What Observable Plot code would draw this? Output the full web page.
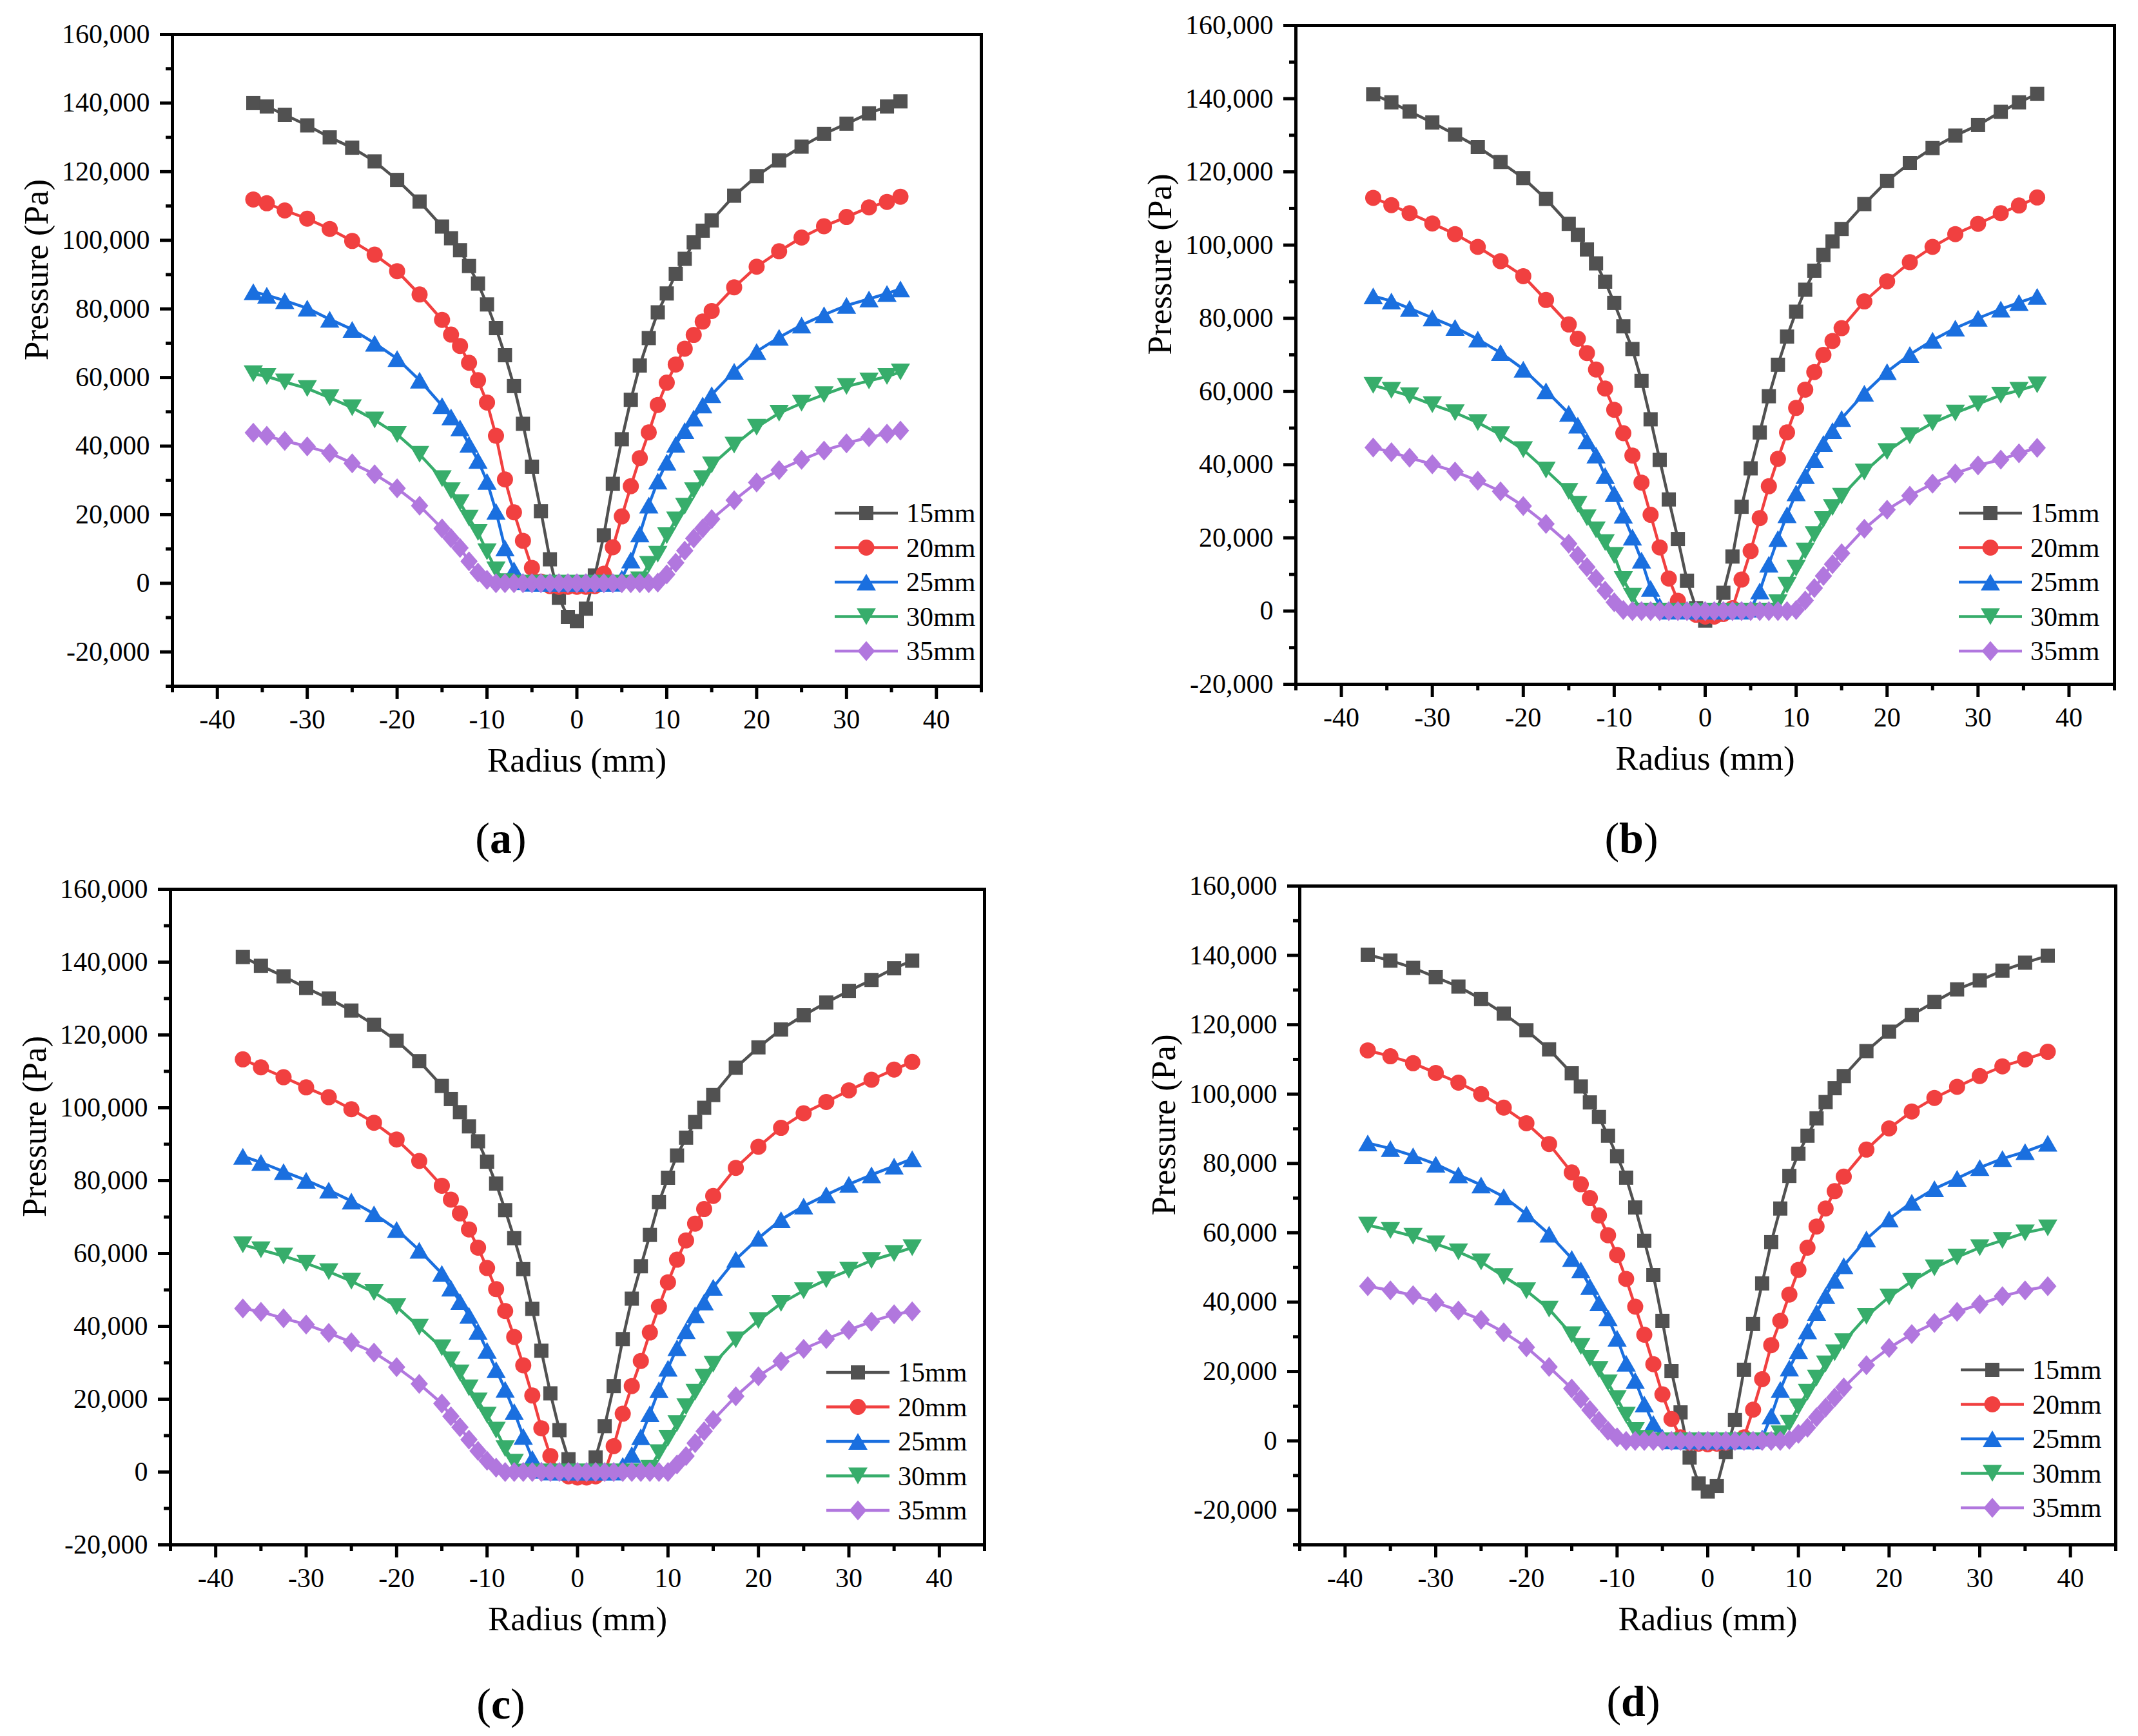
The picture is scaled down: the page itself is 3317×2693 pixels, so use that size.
<!DOCTYPE html>
<html>
<head>
<meta charset="utf-8">
<script src="https://cdn.jsdelivr.net/npm/d3@7"></script>
<script src="https://cdn.jsdelivr.net/npm/@observablehq/plot@0.6"></script>
<style>
  body { margin: 0; background: #fff; }
  #page { position: relative; width: 3317px; height: 2693px; background: #fff; overflow: hidden; }
  .panel { position: absolute; }
  .panel svg text { font-family: "Liberation Serif", "Times New Roman", "DejaVu Serif", serif !important; }
  .cap { position: absolute; transform: translate(-50%, -50%); font-family: "Liberation Serif", "Times New Roman", serif; font-size: 68px; line-height: 1; color: #000; }
</style>
</head>
<body>
<div id="page"></div>
<script>
// radius positions (mm), one list per panel
const xA = [-36,-34.5,-32.5,-30,-27.5,-25,-22.5,-20,-17.5,-15,-14,-13,-12,-11,-10,-9,-8,-7,-6,-5,-4,-3,-2,-1,0,1,2,3,4,5,6,7,8,9,10,11,12,13,14,15,17.5,20,22.5,25,27.5,30,32.5,34.5,36];
const xB = [-36.5,-34.5,-32.5,-30,-27.5,-25,-22.5,-20,-17.5,-15,-14,-13,-12,-11,-10,-9,-8,-7,-6,-5,-4,-3,-2,-1,0,1,2,3,4,5,6,7,8,9,10,11,12,13,14,15,17.5,20,22.5,25,27.5,30,32.5,34.5,36.5];
const xC = [-37,-35,-32.5,-30,-27.5,-25,-22.5,-20,-17.5,-15,-14,-13,-12,-11,-10,-9,-8,-7,-6,-5,-4,-3,-2,-1,0,1,2,3,4,5,6,7,8,9,10,11,12,13,14,15,17.5,20,22.5,25,27.5,30,32.5,35,37];
const xD = [-37.5,-35,-32.5,-30,-27.5,-25,-22.5,-20,-17.5,-15,-14,-13,-12,-11,-10,-9,-8,-7,-6,-5,-4,-3,-2,-1,0,1,2,3,4,5,6,7,8,9,10,11,12,13,14,15,17.5,20,22.5,25,27.5,30,32.5,35,37.5];

// pressure (Pa) - panel (a)
const a15 = [140000,139000,136600,133500,130000,127000,123000,117600,111300,104000,100600,97100,92500,87400,81300,74400,66500,57500,46500,34000,21000,7000,-4200,-9800,-11000,-7400,2300,14000,29000,42000,53500,63500,71500,79000,84500,90200,94600,99400,102800,105800,113000,118700,123300,127300,131000,134000,137000,139000,140500];
const a20 = [111900,110800,108700,106300,103300,99800,95800,91000,84200,76800,72500,69200,64300,59200,52700,43000,30300,20700,12400,4500,500,-800,-1000,-1000,-1000,-1000,-800,2800,10500,19500,28300,36500,44000,52000,58500,63800,68400,72400,76300,79400,86300,92300,96800,100800,104100,106800,109600,111200,112700];
const a25 = [85000,84000,82400,80200,77000,74000,70000,65500,59200,51800,48500,45300,40500,35800,29700,21000,10300,3900,500,0,0,0,0,0,0,0,0,0,0,1500,6800,14400,22800,29800,35300,40500,44500,48200,52000,55000,61800,67600,71700,75300,78300,81000,82900,84500,85800];
const a30 = [61100,60300,58700,56800,54100,51200,47600,43400,37600,30500,27000,23500,19000,14800,9200,3900,500,0,0,0,0,0,0,0,0,0,0,0,0,0,0,1000,5500,8500,13900,18500,22500,27000,30500,34500,40300,45500,49600,52500,55000,57400,59000,60300,61600];
const a35 = [43900,43000,41500,39900,38000,35000,31800,27700,22600,16000,13200,10300,6400,3100,1000,0,0,0,0,0,0,0,0,0,0,0,0,0,0,0,0,0,0,200,2600,6000,9500,13100,16000,18700,24200,29400,33000,36000,38700,40800,42600,43600,44500];

// panel (b)
const b15 = [141200,139000,136500,133500,130200,126800,122700,118300,112600,105800,102800,98800,95000,90000,84200,77800,71600,62900,52400,41300,30500,19700,8300,800,-2600,-1000,5000,14900,28500,39000,48800,58700,67300,75000,81800,87800,93000,97300,101000,104400,111200,117500,122400,126500,129900,132800,136400,139000,141300];
const b20 = [112900,110900,108700,105900,103000,99500,95600,91500,85000,78300,74400,70500,66000,60800,55000,48600,42500,35100,26300,17400,8900,2800,0,-1000,-1500,-1500,-800,800,8600,16400,25400,34100,41600,48800,55500,60500,65300,70000,73800,77300,84600,90100,95300,99500,103000,105800,108700,110800,113000];
const b25 = [86100,84700,82700,80100,77500,74300,70600,66100,60200,54000,50800,46500,42600,37000,32100,26200,20200,13900,6200,1400,0,0,0,0,0,0,0,0,0,500,5500,12800,19800,26300,32300,37000,41400,45800,49300,52600,59500,65400,70100,74000,77300,80000,82500,84300,86000];
const b30 = [61700,60300,58800,56400,54200,51500,48200,44100,38500,32700,29200,25500,22200,18700,15200,8600,4100,0,0,0,0,0,0,0,0,0,0,0,0,0,0,0,2300,7100,11700,16400,20900,25000,28300,31400,38000,43600,47900,51400,54100,56600,59000,60300,61800];
const b35 = [44700,43400,41900,40100,38100,35600,32700,28700,23800,18400,15200,12000,8900,5600,2400,300,0,0,0,0,0,0,0,0,0,0,0,0,0,0,0,0,0,0,300,2900,6300,9600,12800,15800,22500,27700,31500,34800,37600,39800,41400,43100,44600];

// panel (c)
const c15 = [141400,139000,136100,132900,130000,126700,122800,118400,112800,106000,102400,98800,94900,90800,85200,79200,71900,64200,55700,44800,33300,21600,11500,3500,-800,0,4000,12600,23600,36500,47600,56500,65100,74100,80800,86900,91800,96100,100000,103500,111000,116600,121500,125400,128900,132100,135100,138300,140400];
const c20 = [113300,111100,108400,105600,102900,99600,95900,91300,85400,78600,74800,71000,66600,61600,56000,50200,44200,37100,29300,21000,12000,4400,0,-1200,-1500,-1500,-1200,0,7100,16000,23600,30500,38300,45400,52100,58300,63600,68200,72200,75800,83500,89300,94500,98500,101600,104800,107700,110500,112600];
const c25 = [86700,85000,82500,80100,77400,74400,70900,66600,60900,54500,50500,46800,43000,38600,33400,28100,22700,16600,9800,3700,500,0,0,0,0,0,0,0,0,1800,4800,9700,16000,22600,28500,34100,38800,43200,46700,50700,58400,64200,69300,73000,76100,79000,81600,84000,86000];
const c30 = [62400,61000,59300,57300,55000,52400,49300,45400,39800,34100,30800,27200,23100,19500,15600,11500,6400,2700,0,0,0,0,0,0,0,0,0,0,0,0,0,0,1000,5300,9300,13300,17900,21900,26000,29600,36300,41600,46300,49800,52800,55400,58100,60000,61600];
const c35 = [44900,44000,42200,40500,38200,35600,32800,28800,24200,18800,15300,12300,8900,5800,3100,1200,0,0,0,0,0,0,0,0,0,0,0,0,0,0,0,0,0,0,0,2100,4400,7900,11200,14300,20800,26300,30400,33800,36500,39000,41300,43300,44100];

// panel (d)
const d15 = [140200,138500,136400,133700,131000,127400,123200,118400,112900,106000,102200,97600,93400,88000,82100,75900,67300,57700,47800,34600,20100,8200,-4800,-12300,-14600,-13000,-3200,6000,20500,33700,45400,57300,67000,76400,82800,88000,93000,97700,101700,105200,112400,118000,122800,126600,130200,132800,135600,137900,139900];
const d20 = [112600,110900,108900,106100,103300,100000,96100,91600,85600,77400,74000,70000,65000,59300,53600,46700,38700,30600,22100,13400,6300,1000,-500,-800,-1000,-800,-500,0,1000,9000,17800,27600,34600,42200,49300,55700,61800,67000,72000,76200,84000,90100,95000,98900,102100,105200,108000,110000,112200];
const d25 = [85900,84300,82200,79800,76700,73800,70400,65400,59600,52600,49300,44500,39800,35500,29600,22400,17400,10600,5000,1000,0,0,0,0,0,0,0,0,0,0,800,7200,14800,21000,26000,31700,37000,41900,46300,50500,58200,64000,68800,72700,75700,78800,81400,83400,85800];
const d30 = [62200,60700,59000,56800,54500,51600,47400,43300,38000,30600,27200,23800,20600,16700,12200,7400,3000,700,0,0,0,0,0,0,0,0,0,0,0,0,0,0,2000,5100,9800,14000,18100,22200,25400,28600,35900,41500,46000,49900,53000,55700,57800,60000,61400];
const d35 = [44600,43400,42000,39900,37600,34900,31300,27000,21300,15100,12100,8900,5800,2900,1000,0,0,0,0,0,0,0,0,0,0,0,0,0,0,0,0,0,0,300,2000,3800,6800,9600,12500,15400,21800,26800,30800,34000,37200,39400,41700,43400,44600];

const seriesNames = ["15mm", "20mm", "25mm", "30mm", "35mm"];
const xTicks = [-40, -30, -20, -10, 0, 10, 20, 30, 40];
const xMinorTicks = [-45, -35, -25, -15, -5, 5, 15, 25, 35, 45];
const yTicks = [-20000, 0, 20000, 40000, 60000, 80000, 100000, 120000, 140000, 160000];
const yMinorTicks = [-30000, -10000, 10000, 30000, 50000, 70000, 90000, 110000, 130000, 150000];

// styles
const colors = ["#515151", "#F14040", "#1A6FDF", "#37AD6B", "#B177DE"];
const squareSym = { draw(c, size) { const r = Math.sqrt(size / Math.PI); c.rect(-r, -r, 2 * r, 2 * r); } };
const triUp = { draw(c, size) { const r = Math.sqrt(size / Math.PI); c.moveTo(0, -r); c.lineTo(1.15 * r, r); c.lineTo(-1.15 * r, r); c.closePath(); } };
const triDown = { draw(c, size) { const r = Math.sqrt(size / Math.PI); c.moveTo(0, r); c.lineTo(1.15 * r, -r); c.lineTo(-1.15 * r, -r); c.closePath(); } };
const diamondSym = { draw(c, size) { const r = Math.sqrt(size / Math.PI); c.moveTo(0, -r); c.lineTo(0.87 * r, 0); c.lineTo(0, r); c.lineTo(-0.87 * r, 0); c.closePath(); } };
const symbols = [squareSym, d3.symbolCircle, triUp, triDown, diamondSym];
const radii = [11, 12.5, 13, 13, 15.5];

const fmtY = d3.formatLocale({decimal: ".", thousands: ",", grouping: [3], currency: ["", ""], minus: "-"}).format(",");
const font = "'Liberation Serif', 'Times New Roman', serif";
const mB = 186;

const panels = [
  {tag: "a", x: xA, ys: [a15, a20, a25, a30, a35], yDomain: [-30000, 160000], left: 0, top: 0, width: 1562, height: 1250, mL: 267, mT: 53, mR: 40, legend: [-227, -268], cap: [777, 1300]},
  {tag: "b", x: xB, ys: [b15, b20, b25, b30, b35], yDomain: [-20000, 160000], left: 1658, top: 0, width: 1652, height: 1247, mL: 352, mT: 39, mR: 30, legend: [-241, -265], cap: [2531, 1300]},
  {tag: "c", x: xC, ys: [c15, c20, c25, c30, c35], yDomain: [-20000, 160000], left: 0, top: 1330, width: 1562, height: 1252, mL: 264, mT: 49, mR: 35, legend: [-245, -267], cap: [777, 2643]},
  {tag: "d", x: xD, ys: [d15, d20, d25, d30, d35], yDomain: [-30000, 160000], left: 1658, top: 1330, width: 1654, height: 1252, mL: 358, mT: 44, mR: 30, legend: [-240, -271], cap: [2534, 2639]}
];

const page = d3.select("#page");

function drawPanel(p) {
  p.ys.forEach((ys, k) => {
    if (ys.length !== p.x.length) throw new Error(`panel ${p.tag} ${seriesNames[k]}: ${ys.length} values vs ${p.x.length}`);
  });
  const inDomain = (v) => v >= p.yDomain[0] && v <= p.yDomain[1];

  const seriesMarks = [];
  p.ys.forEach((ys, k) => {
    const rows = ys.map((y, i) => ({x: p.x[i], y}));
    seriesMarks.push(Plot.line(rows, {x: "x", y: "y", stroke: colors[k], strokeWidth: 4.5}));
    seriesMarks.push(Plot.dot(rows, {x: "x", y: "y", symbol: symbols[k], r: radii[k], fill: colors[k], stroke: "none"}));
  });

  const svg = Plot.plot({
    width: p.width,
    height: p.height,
    marginLeft: p.mL,
    marginTop: p.mT,
    marginRight: p.mR,
    marginBottom: mB,
    style: `font-family: ${font}; font-size: 42px; background: transparent; overflow: visible; color: #000;`,
    x: {domain: [-45, 45]},
    y: {domain: p.yDomain},
    marks: [
      Plot.axisX({ticks: xMinorTicks, tickSize: 10, tickFormat: () => "", strokeWidth: 5, label: null}),
      Plot.axisX({ticks: xTicks, tickSize: 20, tickPadding: 16, tickFormat: (d) => String(d), strokeWidth: 5, fontSize: 42, label: null}),
      Plot.axisY({ticks: yMinorTicks.filter(inDomain), tickSize: 10, tickFormat: () => "", strokeWidth: 5, label: null}),
      Plot.axisY({ticks: yTicks.filter(inDomain), tickSize: 19, tickPadding: 16, tickFormat: fmtY, strokeWidth: 5, fontSize: 42, label: null}),
      ...seriesMarks,
      Plot.frame({stroke: "#000", strokeWidth: 5}),
      Plot.text(["Radius (mm)"], {text: (d) => d, frameAnchor: "bottom", dy: 132, fontSize: 53}),
      Plot.text(["Pressure (Pa)"], {text: (d) => d, frameAnchor: "left", dx: -210, rotate: -90, fontSize: 53})
    ]
  });

  // legend in the lower right corner of the frame
  const R = p.width - p.mR;
  const B = p.height - mB;
  const g = d3.select(svg).append("g").attr("text-anchor", "start");
  seriesNames.forEach((name, k) => {
    const y = B + p.legend[1] + k * 53.5;
    const x0 = R + p.legend[0];
    g.append("line")
      .attr("x1", x0).attr("x2", x0 + 98)
      .attr("y1", y).attr("y2", y)
      .attr("stroke", colors[k]).attr("stroke-width", 4.5);
    g.append("path")
      .attr("transform", `translate(${x0 + 49},${y})`)
      .attr("d", d3.symbol(symbols[k], Math.PI * radii[k] * radii[k])())
      .attr("fill", colors[k]);
    g.append("text")
      .attr("x", x0 + 111).attr("y", y).attr("dy", "0.34em")
      .attr("text-anchor", "start")
      .attr("font-size", 42)
      .attr("fill", "#000")
      .text(name);
  });

  page.append("div")
    .attr("class", "panel")
    .style("left", p.left + "px")
    .style("top", p.top + "px")
    .node().appendChild(svg);

  page.append("div")
    .attr("class", "cap")
    .style("left", p.cap[0] + "px")
    .style("top", p.cap[1] + "px")
    .html(`(<b>${p.tag}</b>)`);
}

panels.forEach(drawPanel);
</script>
</body>
</html>
